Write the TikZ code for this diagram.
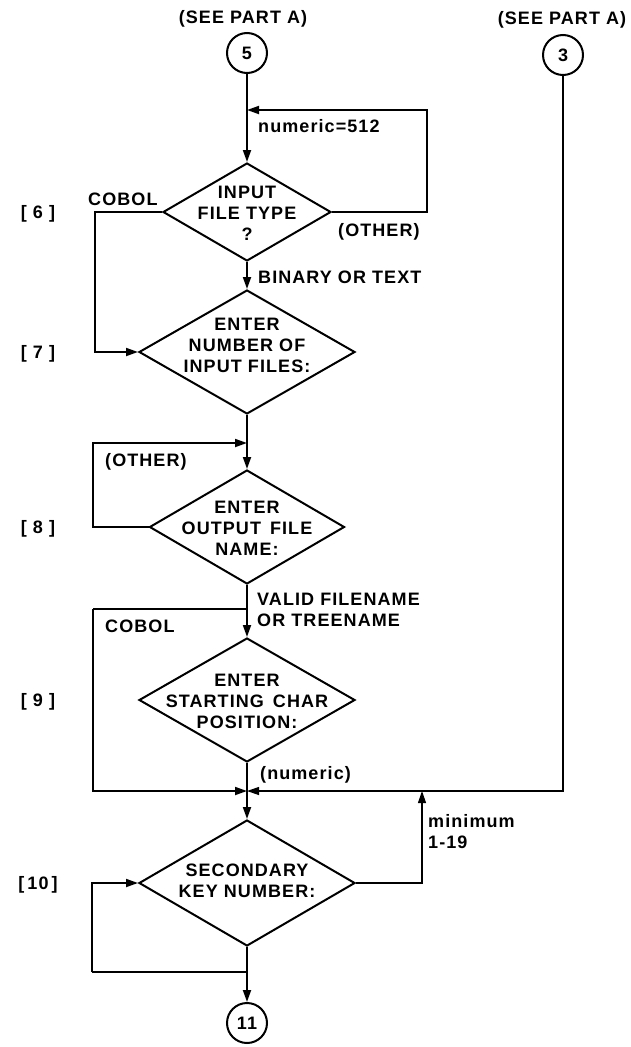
\documentclass[tikz,border=0pt]{standalone}
\usepackage{fontspec}
\setmainfont{Liberation Sans}[LetterSpace=6, UprightFont={* Bold}]
\usetikzlibrary{shapes.geometric,arrows.meta}
\begin{document}
\begin{tikzpicture}[x=1pt,y=-1pt,
  every node/.style={font=\fontsize{18}{21}\selectfont},
  lbl/.style={inner sep=0pt, text height=13pt, text depth=0pt},
  dia/.style={diamond, draw, line width=2pt, inner sep=0pt},
  dtxt/.style={align=center, inner sep=0pt},
  conn/.style={circle, draw, line width=2pt, minimum size=40pt, inner sep=0pt},
  ln/.style={line width=1.8pt},
  thinln/.style={line width=1.2pt},
  tip/.style={-{Triangle[length=12pt,width=8pt]}},
]
\useasboundingbox (0,0) rectangle (631,1047);

% headers and connectors
\node[lbl] (seeA) at (243,17) {(SEE PART A)};
\node[lbl] (seeB) at (562,18) {(SEE PART A)};
\node[conn] (c5) at (247,53) {5};
\node[conn] (c3) at (563,55) {3};

% decisions
\node[dia, minimum width=168pt, minimum height=98pt] (d1) at (247,212) {};
\node[dtxt] (t1) at (247,213) {INPUT\\FILE TYPE\\?};
\node[dia, minimum width=216pt, minimum height=124pt] (d2) at (247,352) {};
\node[dtxt] (t2) at (247,345) {ENTER\\NUMBER OF\\INPUT FILES:};
\node[dia, minimum width=195pt, minimum height=114pt] (d3) at (247,527) {};
\node[dtxt] (t3) at (247,528) {ENTER\\OUTPUT\enskip FILE\\NAME:};
\node[dia, minimum width=216pt, minimum height=124pt] (d4) at (247,700) {};
\node[dtxt] (t4) at (247,701) {ENTER\\STARTING\enskip CHAR\\POSITION:};
\node[dia, minimum width=216pt, minimum height=126pt] (d5) at (247,883) {};
\node[dtxt] (t5) at (247,881) {SECONDARY\\KEY NUMBER:};
\node[conn] (c11) at (247,1023) {11};

% step labels
\node[lbl] (s6) at (38,212) {[ 6 ]};
\node[lbl] (s7) at (38,352) {[ 7 ]};
\node[lbl] (s8) at (38,527) {[ 8 ]};
\node[lbl] (s9) at (38,700) {[ 9 ]};
\node[lbl] (s10) at (38,883) {[\,10\,]};

% branch labels
\node[lbl, anchor=west] (lnum) at (258,126) {numeric=512};
\node[lbl, anchor=west] (lcob1) at (88,199) {COBOL};
\node[lbl, anchor=west] (loth1) at (338,230) {(OTHER)};
\node[lbl, anchor=west] (lbin) at (258,277) {BINARY OR TEXT};
\node[lbl, anchor=west] (loth2) at (105,460) {(OTHER)};
\node[inner sep=0pt, align=left, anchor=north west] (lval) at (257,593) {VALID FILENAME\\OR TREENAME};
\node[lbl, anchor=west] (lcob2) at (105,626) {COBOL};
\node[lbl, anchor=west] (lnumc) at (260,773) {(numeric)};
\node[inner sep=0pt, align=left, anchor=north west] (lmin) at (428,814) {minimum\\1-19};

% junction points
\coordinate (fb) at (427,110);
\coordinate (m1) at (247,110);
\coordinate (cb1) at (95,212);
\coordinate (m2) at (247,443);
\coordinate (lp2) at (93,443);
\coordinate (m3) at (247,609);
\coordinate (lp3) at (93,609);
\coordinate (J) at (247,791);
\coordinate (mn) at (422,791);
\coordinate (m5) at (247,972);
\coordinate (lp5) at (92,972);

% connectors
\draw[ln, tip] (c5) -- (d1);
\draw[ln, tip] (d1.east) -| (fb) -- (m1);
\draw[ln, tip] (d1.west) -- (cb1) |- (d2.west);
\draw[ln, tip] (d1) -- (d2);
\draw[ln, tip] (d2) -- (d3);
\draw[ln, tip] (d3.west) -| (lp2) -- (m2);
\draw[ln] (m3) -- (lp3);
\draw[ln, tip] (lp3) |- (J);
\draw[ln, tip] (d3) -- (d4);
\draw[ln] (d4) -- (J);
\draw[ln, tip] (J) -- (d5);
\draw[thinln, tip] (c3) |- (J);
\draw[thinln, tip] (d5.east) -| (mn);
\draw[ln] (m5) -- (lp5);
\draw[ln, tip] (lp5) |- (d5.west);
\draw[ln, tip] (d5) -- (c11);
\end{tikzpicture}
\end{document}
